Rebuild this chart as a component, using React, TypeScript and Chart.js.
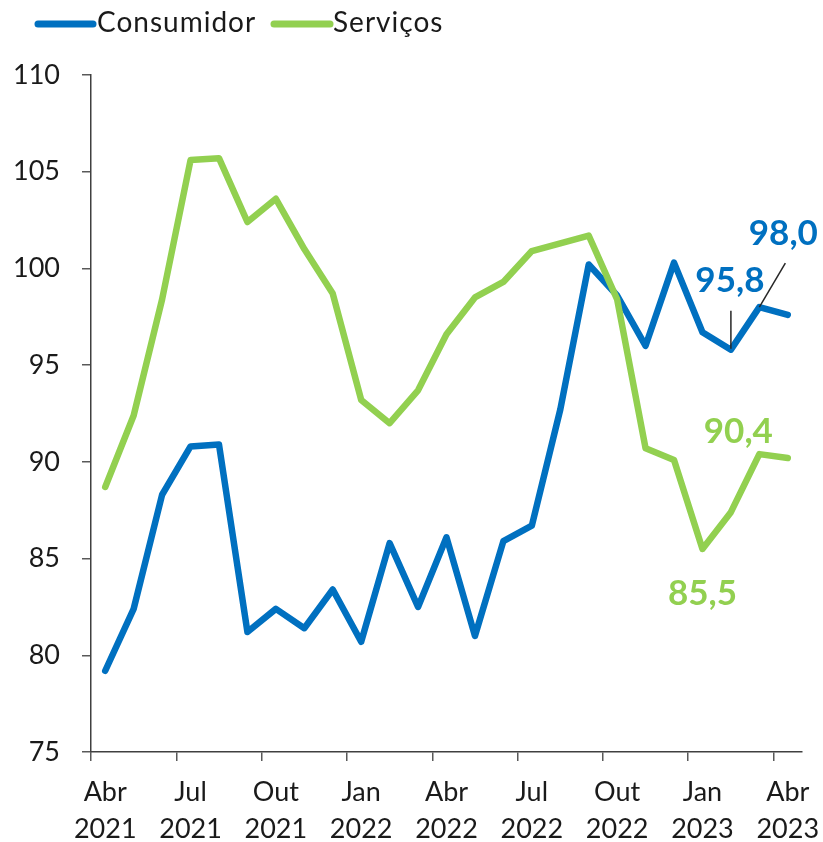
import React, { useEffect, useRef } from "react";
import { Chart, registerables } from "chart.js";

Chart.register(...registerables);

const monthNames = ["Abr", "Mai", "Jun", "Jul", "Ago", "Set", "Out", "Nov", "Dez", "Jan", "Fev", "Mar"];
const years = [2021, 2021, 2021, 2021, 2021, 2021, 2021, 2021, 2021, 2022, 2022, 2022,
  2022, 2022, 2022, 2022, 2022, 2022, 2022, 2022, 2022, 2023, 2023, 2023, 2023];
const categories = years.map((y, i) => [monthNames[i % 12], String(y)]);

const consumidor = [79.2, 82.4, 88.3, 90.8, 90.9, 81.2, 82.4, 81.4, 83.4, 80.7, 85.8, 82.5, 86.1,
  81.0, 85.9, 86.7, 92.7, 100.2, 98.6, 96.0, 100.3, 96.7, 95.8, 98.0, 97.6];
const servicos = [88.7, 92.4, 98.4, 105.6, 105.7, 102.4, 103.6, 101.0, 98.7, 93.2, 92.0, 93.7, 96.6,
  98.5, 99.3, 100.9, 101.3, 101.7, 98.4, 90.7, 90.1, 85.5, 87.4, 90.4, 90.2];

const yTicks = [75, 80, 85, 90, 95, 100, 105, 110];

const BLUE = "#0070C0";
const GREEN = "#92D050";
const FONT = "Lato, 'Open Sans', sans-serif";

// annotations: dataset index, point index, text
const annotations = [
  { ds: 0, idx: 22, text: "95,8" },
  { ds: 0, idx: 23, text: "98,0" },
  { ds: 1, idx: 23, text: "90,4" },
  { ds: 1, idx: 21, text: "85,5" },
];
const annotStyle = [
  { dx: -1, dy: -69, line: [0, -39, 0, -1] },
  { dx: 24, dy: -73, line: [0, 0, 26, -44] },
  { dx: -21, dy: -22, line: null },
  { dx: 0, dy: 45, line: null },
];

const legendItems = [
  { label: "Consumidor", color: BLUE, x1: 38, x2: 93, tx: 97 },
  { label: "Serviços", color: GREEN, x1: 274, x2: 330, tx: 333 },
];

const overlayPlugin = {
  id: "overlay",
  afterDraw(chart: any) {
    const ctx = chart.ctx;
    ctx.save();
    // legend
    legendItems.forEach((it) => {
      ctx.strokeStyle = it.color;
      ctx.lineWidth = 7;
      ctx.lineCap = "round";
      ctx.beginPath();
      ctx.moveTo(it.x1, 24);
      ctx.lineTo(it.x2, 24);
      ctx.stroke();
      ctx.fillStyle = "#1a1a1a";
      ctx.font = `28px ${FONT}`;
      ctx.textAlign = "left";
      ctx.textBaseline = "alphabetic";
      (ctx as any).letterSpacing = "1px";
      ctx.fillText(it.label, it.tx, 32);
      (ctx as any).letterSpacing = "0px";
    });
    // annotations
    annotations.forEach((a, i) => {
      const st = annotStyle[i];
      const pt = chart.getDatasetMeta(a.ds).data[a.idx];
      const color = a.ds === 0 ? BLUE : GREEN;
      if (st.line) {
        ctx.strokeStyle = "#262626";
        ctx.lineWidth = 1.5;
        ctx.lineCap = "butt";
        ctx.beginPath();
        ctx.moveTo(pt.x + st.line[0], pt.y + st.line[1]);
        ctx.lineTo(pt.x + st.line[2], pt.y + st.line[3]);
        ctx.stroke();
      }
      ctx.fillStyle = color;
      ctx.font = `bold 35px ${FONT}`;
      ctx.textAlign = "center";
      ctx.textBaseline = "middle";
      ctx.fillText(a.text, pt.x + st.dx, pt.y + st.dy);
    });
    ctx.restore();
  },
};

export default function App() {
  const ref = useRef<HTMLCanvasElement>(null);
  useEffect(() => {
    const chart = new Chart(ref.current!, {
      type: "line",
      data: {
        labels: categories as any,
        datasets: [
          {
            label: "Consumidor",
            data: consumidor,
            borderColor: BLUE,
            borderWidth: 6.5,
            pointRadius: 0,
            borderCapStyle: "round",
            borderJoinStyle: "round",
            tension: 0,
            order: 1,
          },
          {
            label: "Serviços",
            data: servicos,
            borderColor: GREEN,
            borderWidth: 6.5,
            pointRadius: 0,
            borderCapStyle: "round",
            borderJoinStyle: "round",
            tension: 0,
            order: 0,
          },
        ],
      },
      options: {
        responsive: false,
        animation: false,
        layout: { padding: { top: 75, right: 21, left: 0, bottom: 0 } },
        plugins: { legend: { display: false }, tooltip: { enabled: false } },
        scales: {
          x: {
            offset: true,
            grid: {
              offset: true,
              drawOnChartArea: false,
              drawTicks: true,
              tickLength: 9,
              lineWidth: 1.5,
              color: (c: any) => (c.index % 3 === 0 && c.index < categories.length ? "#595959" : "rgba(0,0,0,0)"),
            },
            border: { display: true, color: "#404040", width: 1.5 },
            ticks: {
              autoSkip: false,
              maxRotation: 0,
              minRotation: 0,
              padding: 13,
              color: "#1a1a1a",
              font: { family: FONT, size: 27, lineHeight: 1.37 },
              callback: (_v: any, i: number) => (i % 3 === 0 ? categories[i] : ""),
            },
            afterFit: (s: any) => {
              s.height = 90;
              s.paddingLeft = 0;
              s.paddingRight = 0;
            },
          },
          y: {
            min: yTicks[0],
            max: yTicks[yTicks.length - 1],
            afterBuildTicks: (s: any) => {
              s.ticks = yTicks.map((v) => ({ value: v }));
            },
            grid: { drawOnChartArea: false, drawTicks: true, tickLength: 9, color: "#595959", lineWidth: 1.5 },
            border: { display: true, color: "#404040", width: 1.5 },
            ticks: {
              padding: 22,
              color: "#1a1a1a",
              font: { family: FONT, size: 27 },
              callback: (v: any) => String(v),
            },
            afterFit: (s: any) => {
              s.width = 91;
              s.paddingTop = 0;
              s.paddingBottom = 0;
            },
          },
        },
      },
      plugins: [overlayPlugin],
    });
    return () => chart.destroy();
  }, []);
  return (
    <div style={{ position: "absolute", left: 0, top: 0, width: 823, height: 842 }}>
      <canvas ref={ref} width={823} height={842} style={{ width: 823, height: 842 }} />
    </div>
  );
}
